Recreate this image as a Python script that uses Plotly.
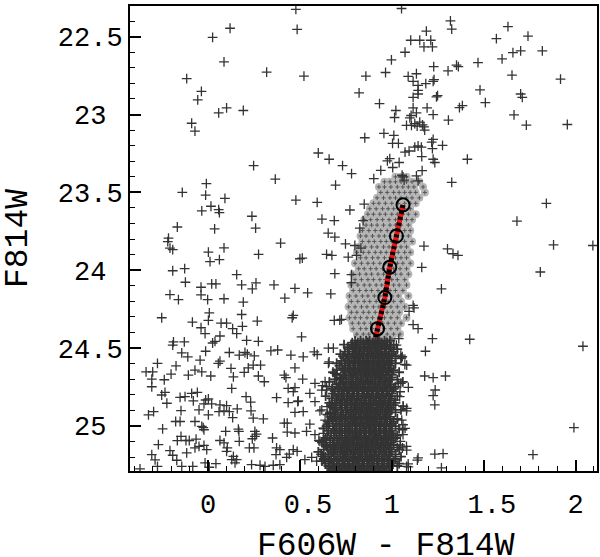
import plotly.graph_objects as go

# field stars (colour, magnitude)
field_stars = [
    (0.478, 22.325), (0.485, 22.453), (0.120, 22.446), (0.025, 22.504), (0.087, 22.662),
    (0.319, 22.727), (-0.116, 22.770), (-0.036, 22.851), (-0.056, 22.906), (0.101, 22.957),
    (0.058, 22.989), (0.192, 22.974), (-0.089, 23.056), (-0.071, 23.107), (0.248, 23.328),
    (0.366, 23.415), (-0.009, 23.443), (-0.140, 23.500), (-0.013, 23.517), (0.092, 23.538),
    (0.478, 23.549), (-0.034, 23.619), (0.016, 23.589), (0.058, 23.611), (0.062, 23.630),
    (0.239, 23.653), (0.259, 23.730), (-0.167, 23.722), (0.036, 23.734), (-0.215, 23.794),
    (-0.219, 23.816), (-0.207, 23.858), (-0.192, 23.867), (0.395, 23.826), (0.002, 23.883),
    (0.087, 23.856), (0.275, 23.898), (0.011, 23.945), (0.062, 23.932), (-0.192, 24.003),
    (-0.127, 23.990), (0.156, 24.028), (0.500, 23.926),
    # upper right
    (1.053, 22.319), (1.319, 22.398), (1.326, 22.451), (1.632, 22.436), (1.188, 22.464),
    (1.569, 22.513), (1.741, 22.496), (1.103, 22.523), (1.152, 22.523), (1.212, 22.523),
    (1.175, 22.566), (1.221, 22.566), (1.072, 22.600), (1.659, 22.602), (1.701, 22.591),
    (1.819, 22.591), (1.600, 22.642), (0.998, 22.649), (1.469, 22.666), (1.228, 22.692),
    (1.352, 22.683), (1.362, 22.692), (1.306, 22.719), (0.522, 22.753), (0.859, 22.753),
    (0.966, 22.730), (1.089, 22.755), (1.134, 22.738), (1.654, 22.747), (1.918, 22.772),
    (1.116, 22.787), (1.143, 22.813), (1.185, 22.802), (1.230, 22.776), (1.225, 22.787),
    (1.143, 22.845), (1.143, 22.868), (0.822, 22.861), (1.116, 22.890), (1.243, 22.887),
    (1.249, 22.879), (1.480, 22.842), (1.701, 22.868), (1.710, 22.890), (1.509, 22.923),
    (0.933, 22.930), (1.368, 22.955), (1.384, 22.943), (1.116, 22.957), (1.192, 22.957),
    (1.022, 22.974), (1.134, 22.989), (1.015, 23.019), (1.098, 23.021), (1.105, 23.006),
    (1.225, 23.000), (1.665, 23.002), (1.308, 23.036), (1.080, 23.070), (1.107, 23.070),
    (1.125, 23.058), (1.138, 23.075), (1.152, 23.049), (1.167, 23.066), (1.175, 23.079),
    (1.179, 23.100), (1.732, 23.068), (1.955, 23.064), (0.853, 23.149), (0.957, 23.121),
    (1.011, 23.134), (1.004, 23.185), (1.036, 23.185), (1.225, 23.160), (1.217, 23.177),
    (1.221, 23.219), (1.276, 23.198), (1.072, 23.241), (1.094, 23.234), (1.125, 23.209),
    (1.143, 23.202), (1.161, 23.209), (1.163, 23.270), (1.225, 23.287), (1.234, 23.308),
    (1.411, 23.287), (0.600, 23.247), (0.659, 23.287), (0.732, 23.328), (0.781, 23.379),
    (0.940, 23.358), (0.976, 23.298), (0.989, 23.283), (1.040, 23.308), (1.005, 23.340),
    (0.902, 23.411), (1.056, 23.390), (1.061, 23.400), (1.165, 23.360), (1.067, 23.421),
    (1.134, 23.394), (1.143, 23.426), (1.326, 23.436), (0.694, 23.453), (0.594, 23.564),
    (0.772, 23.613), (0.850, 23.575), (1.841, 23.570), (1.681, 23.685), (0.620, 23.671),
    (0.687, 23.681), (0.654, 23.762), (0.690, 23.787), (0.844, 23.681), (0.826, 23.730),
    (0.748, 23.830), (0.799, 23.841), (0.832, 23.858), (0.645, 23.898), (0.674, 23.905),
    (0.763, 23.915), (0.808, 23.905), (1.175, 23.845), (1.303, 23.862), (1.333, 23.894),
    (1.360, 23.905), (1.880, 23.837), (2.094, 23.841), (0.513, 23.922), (1.163, 23.981),
    (0.690, 24.022), (0.781, 24.028), (1.808, 24.011), (0.780, 24.080), (0.717, 24.320),
    # lower left
    (-0.123, 24.077), (-0.038, 24.109), (0.020, 24.088), (0.043, 24.088), (0.183, 24.094),
    (0.241, 24.119), (0.261, 24.081), (0.359, 24.094), (0.473, 24.116), (-0.207, 24.156),
    (-0.161, 24.188), (-0.038, 24.158), (-0.002, 24.188), (0.087, 24.183), (0.192, 24.205),
    (0.418, 24.179), (-0.252, 24.305), (-0.085, 24.333), (0.002, 24.322), (0.007, 24.273),
    (0.071, 24.339), (0.101, 24.339), (0.183, 24.284), (0.187, 24.360), (0.268, 24.326),
    (-0.038, 24.369), (-0.016, 24.407), (0.134, 24.375), (0.156, 24.407), (0.065, 24.422),
    (0.038, 24.456), (0.025, 24.467), (0.464, 24.290), (0.458, 24.305), (0.210, 24.450),
    (0.274, 24.456), (-0.188, 24.460), (-0.192, 24.481), (-0.129, 24.460), (-0.013, 24.520),
    (-0.143, 24.531), (-0.110, 24.556), (-0.043, 24.577), (0.116, 24.528), (0.170, 24.545),
    (0.201, 24.528), (0.214, 24.539), (0.252, 24.550), (0.342, 24.518), (0.379, 24.512),
    (0.451, 24.545), (-0.275, 24.598), (-0.337, 24.652), (-0.301, 24.652), (-0.306, 24.699),
    (-0.306, 24.748), (-0.238, 24.703), (-0.201, 24.667), (-0.174, 24.614), (-0.107, 24.673),
    (-0.071, 24.641), (-0.034, 24.652), (0.015, 24.679), (0.056, 24.598), (0.065, 24.584),
    (0.125, 24.630), (0.138, 24.684), (0.197, 24.656), (0.219, 24.627), (0.246, 24.609),
    (0.274, 24.679), (0.286, 24.609), (0.306, 24.716), (0.415, 24.673), (0.424, 24.690),
    (0.473, 24.627), (0.129, 24.758), (-0.252, 24.801), (-0.234, 24.784), (-0.224, 24.854),
    (-0.152, 24.816), (-0.125, 24.812), (-0.089, 24.790), (-0.058, 24.784), (-0.080, 24.839),
    (-0.022, 24.858), (-0.013, 24.833), (0.002, 24.826), (0.020, 24.858), (0.065, 24.865),
    (0.101, 24.869), (0.207, 24.812), (0.232, 24.847), (0.373, 24.818), (0.436, 24.850),
    (0.491, 24.839), (-0.324, 24.929), (-0.296, 24.908), (-0.147, 24.901), (-0.176, 24.971),
    (-0.152, 24.971), (-0.049, 24.897), (0.002, 24.929), (-0.071, 24.971), (-0.034, 25.003),
    (0.060, 24.908), (0.087, 24.903), (0.116, 24.908), (0.134, 24.946), (0.159, 24.890),
    (0.234, 24.903), (0.246, 24.950), (0.301, 24.954), (-0.247, 25.018), (-0.147, 25.067),
    (-0.167, 25.094), (-0.120, 25.093), (-0.102, 25.093), (-0.065, 25.084), (-0.026, 25.010),
    (-0.022, 25.024), (-0.270, 25.120), (-0.207, 25.158), (-0.192, 25.188), (-0.170, 25.220),
    (-0.116, 25.173), (-0.306, 25.184), (-0.288, 25.218), (-0.275, 25.259), (-0.143, 25.259),
    (-0.083, 25.259), (-0.370, 25.275), (-0.071, 25.141), (-0.049, 25.131), (-0.022, 25.124),
    (-0.007, 25.152), (-0.016, 25.237), (0.007, 25.265), (0.043, 25.241), (0.065, 25.093),
    (0.096, 25.035), (0.105, 25.141), (0.101, 25.163), (0.087, 25.109), (0.138, 25.195),
    (0.156, 25.216), (0.129, 25.216), (0.147, 25.237), (0.170, 25.099), (0.165, 25.020),
    (0.168, 25.035), (0.225, 25.141), (0.241, 25.082), (0.255, 25.035), (0.264, 25.052),
    (0.255, 25.067), (0.237, 25.248), (0.250, 25.141), (0.283, 25.252), (0.310, 25.259),
    (0.351, 25.077), (0.355, 25.252), (0.373, 25.141), (0.391, 25.152), (0.391, 25.248),
    (0.370, 25.184), (0.428, 25.201), (0.442, 25.180), (0.464, 25.152), (0.485, 25.163),
    (0.415, 24.982), (0.431, 24.982), (0.431, 25.039), (0.473, 25.045), (0.473, 24.913),
    (0.488, 24.844), (0.473, 24.754), (0.436, 24.758), (0.464, 24.779),
    # lower right
    (1.270, 24.119), (0.542, 24.145), (0.668, 24.151), (0.687, 24.322), (0.726, 24.315),
    (1.116, 24.226), (1.121, 24.241), (1.094, 24.264), (1.116, 24.349), (1.143, 24.375),
    (1.221, 24.439), (1.424, 24.443), (2.040, 24.488), (1.183, 24.520), (1.179, 24.679),
    (1.225, 24.690), (1.292, 24.679), (1.236, 24.769), (1.225, 24.805), (1.234, 24.865),
    (1.991, 25.010), (1.768, 25.184), (1.143, 25.205), (1.234, 25.180), (1.279, 25.178),
    (1.270, 25.269), (1.058, 25.141), (1.080, 25.131), (1.089, 25.243), (1.080, 25.259),
    (1.061, 24.992), (1.058, 25.024), (1.061, 25.056), (1.047, 25.099), (1.080, 24.903),
    (1.061, 24.871), (1.043, 24.812), (1.049, 24.726), (1.071, 24.605), (1.049, 24.545),
    (1.053, 24.563), (1.025, 24.481), (1.038, 24.439), (0.509, 24.428), (0.518, 24.556),
    (0.515, 24.699), (0.518, 24.908), (0.582, 24.726), (0.578, 24.524), (0.594, 24.541),
    (0.659, 24.588), (0.623, 24.741), (0.645, 24.748), (0.678, 24.748), (0.690, 24.699),
    (0.554, 24.790), (0.582, 24.844), (0.609, 24.903), (0.554, 24.988), (0.536, 25.035),
    (0.582, 25.056), (0.603, 25.093), (0.527, 25.216), (0.564, 25.201), (0.591, 25.226),
    (0.609, 25.099), (0.627, 25.014), (0.651, 24.971), (0.663, 24.918), (0.648, 24.876),
    (0.672, 24.822), (0.636, 25.226), (0.654, 25.195), (0.681, 25.141),
    # main-sequence fringe
    (1.057, 24.555), (1.081, 24.609), (1.035, 24.727), (1.090, 24.752), (1.045, 24.780),
    (1.017, 24.833), (1.063, 24.876), (1.081, 24.887), (1.054, 24.962), (1.072, 25.015),
    (1.008, 25.058), (1.045, 25.122), (1.081, 25.155), (1.139, 25.219), (1.090, 25.262),
    (0.619, 24.770), (0.646, 24.770), (0.655, 24.500), (0.682, 24.500), (0.655, 24.598),
    (0.637, 24.716), (0.690, 24.662), (0.718, 24.694), (0.619, 24.897), (0.637, 24.962),
    (0.628, 25.047), (0.646, 25.133), (0.624, 25.197), (0.664, 25.240),
]

# dense main sequence, one row of colours per magnitude level
ms_rows = [
    (24.452, [0.80, 0.83, 0.86, 0.88, 0.91, 0.93, 0.96, 0.99]),
    (24.465, [0.785, 0.815, 0.845, 0.87, 0.895, 0.92, 0.945, 0.975]),
    (24.478, [0.74, 0.78, 0.81, 0.845, 0.87, 0.90, 0.925, 0.95, 0.975, 1.01]),
    (24.493, [0.76, 0.795, 0.83, 0.855, 0.885, 0.91, 0.94, 0.965, 0.995]),
    (24.507, [0.77, 0.80, 0.825, 0.85, 0.88, 0.905, 0.93, 0.96, 0.985, 1.03]),
    (24.522, [0.745, 0.785, 0.81, 0.835, 0.865, 0.89, 0.915, 0.94, 0.97, 1.01]),
    (24.538, [0.72, 0.76, 0.79, 0.82, 0.845, 0.87, 0.895, 0.92, 0.945, 0.97, 1.00]),
    (24.552, [0.735, 0.765, 0.795, 0.82, 0.845, 0.87, 0.90, 0.925, 0.95, 0.98, 1.02]),
    (24.566, [0.75, 0.78, 0.805, 0.83, 0.86, 0.885, 0.91, 0.935, 0.96, 0.99, 1.05]),
    (24.582, [0.725, 0.76, 0.79, 0.815, 0.84, 0.87, 0.895, 0.92, 0.945, 0.97, 1.00]),
    (24.597, [0.70, 0.745, 0.77, 0.80, 0.825, 0.85, 0.875, 0.90, 0.93, 0.955, 0.98, 1.02]),
    (24.612, [0.715, 0.745, 0.775, 0.80, 0.83, 0.855, 0.88, 0.905, 0.93, 0.96, 0.99]),
    (24.628, [0.73, 0.76, 0.79, 0.815, 0.84, 0.865, 0.89, 0.915, 0.94, 0.965, 0.995]),
    (24.641, [0.70, 0.74, 0.77, 0.795, 0.825, 0.85, 0.875, 0.90, 0.925, 0.95, 0.98, 1.01]),
    (24.655, [0.68, 0.745, 0.775, 0.80, 0.83, 0.855, 0.88, 0.905, 0.93, 0.955, 0.985, 1.04]),
    (24.671, [0.70, 0.735, 0.765, 0.79, 0.815, 0.845, 0.87, 0.895, 0.92, 0.945, 0.97, 1.00]),
    (24.688, [0.72, 0.75, 0.78, 0.81, 0.835, 0.86, 0.885, 0.91, 0.94, 0.97, 1.00]),
    (24.702, [0.69, 0.725, 0.75, 0.78, 0.805, 0.83, 0.86, 0.885, 0.91, 0.935, 0.96, 0.99, 1.03]),
    (24.717, [0.66, 0.735, 0.765, 0.79, 0.82, 0.845, 0.87, 0.895, 0.925, 0.95, 0.98, 1.06]),
    (24.732, [0.70, 0.72, 0.75, 0.78, 0.805, 0.83, 0.855, 0.88, 0.91, 0.935, 0.965, 0.995]),
    (24.748, [0.71, 0.745, 0.775, 0.80, 0.83, 0.855, 0.88, 0.905, 0.935, 0.96, 0.99, 1.02]),
    (24.762, [0.675, 0.71, 0.74, 0.765, 0.79, 0.815, 0.845, 0.87, 0.895, 0.92, 0.95, 0.975, 1.01]),
    (24.776, [0.69, 0.725, 0.755, 0.785, 0.81, 0.84, 0.865, 0.89, 0.915, 0.945, 0.975, 1.00]),
    (24.792, [0.68, 0.71, 0.735, 0.76, 0.79, 0.815, 0.84, 0.865, 0.89, 0.92, 0.945, 0.97, 1.00]),
    (24.808, [0.64, 0.71, 0.74, 0.77, 0.795, 0.82, 0.85, 0.875, 0.90, 0.93, 0.955, 0.985, 1.03]),
    (24.822, [0.675, 0.70, 0.725, 0.755, 0.78, 0.81, 0.835, 0.86, 0.885, 0.915, 0.94, 0.965, 0.995]),
    (24.837, [0.70, 0.73, 0.76, 0.785, 0.81, 0.835, 0.86, 0.885, 0.91, 0.94, 0.965, 0.99]),
    (24.852, [0.66, 0.69, 0.72, 0.745, 0.775, 0.80, 0.825, 0.85, 0.875, 0.90, 0.93, 0.955, 0.98, 1.02]),
    (24.866, [0.67, 0.715, 0.745, 0.775, 0.80, 0.825, 0.85, 0.875, 0.90, 0.925, 0.95, 0.98, 1.01]),
    (24.882, [0.68, 0.70, 0.73, 0.76, 0.79, 0.815, 0.84, 0.865, 0.89, 0.915, 0.94, 0.965, 0.99]),
    (24.897, [0.69, 0.725, 0.755, 0.78, 0.81, 0.835, 0.86, 0.885, 0.915, 0.94, 0.97, 1.00, 1.05]),
    (24.912, [0.665, 0.695, 0.725, 0.75, 0.775, 0.80, 0.83, 0.855, 0.88, 0.905, 0.93, 0.96, 0.985, 1.02]),
    (24.927, [0.65, 0.705, 0.735, 0.765, 0.79, 0.82, 0.845, 0.87, 0.895, 0.92, 0.95, 0.975]),
    (24.941, [0.67, 0.69, 0.72, 0.75, 0.78, 0.805, 0.83, 0.86, 0.885, 0.91, 0.935, 0.965, 0.99]),
    (24.955, [0.68, 0.715, 0.745, 0.775, 0.80, 0.83, 0.855, 0.88, 0.905, 0.935, 0.96, 0.99, 1.03]),
    (24.971, [0.655, 0.695, 0.73, 0.76, 0.79, 0.815, 0.84, 0.87, 0.895, 0.92, 0.945, 0.975, 1.01]),
    (24.986, [0.66, 0.70, 0.73, 0.76, 0.785, 0.81, 0.84, 0.865, 0.89, 0.915, 0.94, 0.97, 1.00]),
    (25.001, [0.645, 0.68, 0.715, 0.745, 0.77, 0.80, 0.825, 0.85, 0.88, 0.905, 0.93, 0.96, 0.99, 1.02]),
    (25.017, [0.63, 0.685, 0.715, 0.745, 0.77, 0.80, 0.825, 0.85, 0.875, 0.90, 0.93, 0.955, 0.985, 1.04]),
    (25.031, [0.655, 0.69, 0.72, 0.75, 0.775, 0.805, 0.83, 0.855, 0.885, 0.91, 0.935, 0.97, 1.00]),
    (25.046, [0.67, 0.70, 0.73, 0.76, 0.785, 0.81, 0.835, 0.86, 0.89, 0.915, 0.94, 0.965, 1.00]),
    (25.062, [0.65, 0.685, 0.715, 0.745, 0.77, 0.80, 0.825, 0.85, 0.875, 0.905, 0.93, 0.96, 0.99, 1.03]),
    (25.077, [0.64, 0.685, 0.715, 0.745, 0.77, 0.795, 0.82, 0.85, 0.875, 0.90, 0.925, 0.955, 0.98, 1.02]),
    (25.091, [0.63, 0.665, 0.70, 0.73, 0.755, 0.785, 0.81, 0.835, 0.865, 0.89, 0.915, 0.945, 0.97, 1.00]),
    (25.106, [0.62, 0.665, 0.70, 0.73, 0.755, 0.78, 0.81, 0.835, 0.86, 0.885, 0.91, 0.94, 0.965, 0.995]),
    (25.122, [0.64, 0.68, 0.71, 0.735, 0.765, 0.79, 0.815, 0.84, 0.87, 0.895, 0.92, 0.945, 0.975, 1.01]),
    (25.137, [0.65, 0.69, 0.72, 0.745, 0.77, 0.80, 0.825, 0.85, 0.875, 0.90, 0.93, 0.955, 0.985, 1.03]),
    (25.152, [0.63, 0.665, 0.695, 0.725, 0.755, 0.78, 0.805, 0.83, 0.855, 0.885, 0.91, 0.935, 0.96, 0.99, 1.04]),
    (25.166, [0.60, 0.675, 0.705, 0.735, 0.76, 0.79, 0.815, 0.84, 0.865, 0.89, 0.915, 0.945, 0.97, 1.00]),
    (25.182, [0.615, 0.655, 0.685, 0.72, 0.745, 0.775, 0.80, 0.825, 0.855, 0.88, 0.905, 0.93, 0.96, 0.985, 1.02]),
    (25.197, [0.64, 0.69, 0.72, 0.75, 0.775, 0.80, 0.83, 0.855, 0.88, 0.905, 0.93, 0.96, 0.99, 1.05]),
    (25.212, [0.63, 0.67, 0.705, 0.735, 0.76, 0.79, 0.815, 0.84, 0.87, 0.895, 0.92, 0.95, 0.98, 1.02]),
    (25.226, [0.62, 0.66, 0.70, 0.73, 0.76, 0.785, 0.81, 0.84, 0.865, 0.89, 0.92, 0.945, 0.975, 1.01]),
    (25.242, [0.64, 0.675, 0.705, 0.735, 0.765, 0.79, 0.815, 0.845, 0.87, 0.895, 0.92, 0.95, 0.98, 1.04]),
    (25.257, [0.655, 0.685, 0.715, 0.745, 0.77, 0.80, 0.825, 0.85, 0.88, 0.905, 0.93, 0.96, 0.99, 1.03]),
    (25.270, [0.66, 0.69, 0.72, 0.75, 0.775, 0.805, 0.835, 0.865, 0.895, 0.925, 0.955, 0.985]),
    (25.283, [0.67, 0.70, 0.73, 0.76, 0.79, 0.82, 0.85, 0.88, 0.91, 0.94, 0.97]),
]

# selected sub-giant branch stars (grey)
sgb_rows = [
    (23.400, [1.02, 1.05, 1.08]),
    (23.432, [0.96, 0.99, 1.02, 1.05, 1.08, 1.11, 1.15]),
    (23.465, [0.93, 0.96, 0.995, 1.03, 1.06, 1.09, 1.12, 1.17]),
    (23.500, [0.94, 0.975, 1.01, 1.04, 1.07, 1.10, 1.13, 1.18]),
    (23.535, [0.92, 0.955, 0.99, 1.02, 1.05, 1.08, 1.11, 1.15]),
    (23.570, [0.90, 0.93, 0.965, 1.00, 1.035, 1.07, 1.10, 1.13]),
    (23.605, [0.88, 0.915, 0.95, 0.98, 1.01, 1.04, 1.07, 1.10]),
    (23.640, [0.87, 0.90, 0.935, 0.965, 1.00, 1.03, 1.06, 1.09, 1.13]),
    (23.675, [0.85, 0.885, 0.92, 0.95, 0.985, 1.02, 1.05, 1.08, 1.11]),
    (23.710, [0.86, 0.89, 0.92, 0.955, 0.99, 1.02, 1.05, 1.09]),
    (23.745, [0.84, 0.875, 0.91, 0.94, 0.975, 1.005, 1.04, 1.07, 1.10]),
    (23.780, [0.83, 0.86, 0.895, 0.93, 0.96, 0.99, 1.025, 1.06, 1.09]),
    (23.815, [0.84, 0.875, 0.905, 0.94, 0.97, 1.00, 1.035, 1.07, 1.11]),
    (23.850, [0.82, 0.855, 0.89, 0.92, 0.955, 0.985, 1.02, 1.05, 1.08]),
    (23.885, [0.81, 0.845, 0.875, 0.91, 0.94, 0.97, 1.00, 1.035, 1.07, 1.10]),
    (23.920, [0.83, 0.86, 0.895, 0.925, 0.96, 0.99, 1.02, 1.05, 1.08]),
    (23.955, [0.80, 0.835, 0.87, 0.90, 0.935, 0.965, 1.00, 1.03, 1.06, 1.10]),
    (23.990, [0.82, 0.85, 0.885, 0.915, 0.95, 0.98, 1.01, 1.045, 1.08]),
    (24.025, [0.79, 0.825, 0.86, 0.89, 0.925, 0.955, 0.99, 1.02, 1.05, 1.09]),
    (24.060, [0.80, 0.835, 0.87, 0.90, 0.935, 0.965, 1.00, 1.03, 1.07]),
    (24.095, [0.78, 0.815, 0.85, 0.88, 0.915, 0.945, 0.98, 1.01, 1.04, 1.08]),
    (24.130, [0.79, 0.825, 0.86, 0.89, 0.925, 0.955, 0.99, 1.02, 1.06]),
    (24.165, [0.77, 0.805, 0.84, 0.87, 0.905, 0.935, 0.97, 1.00, 1.035, 1.09]),
    (24.200, [0.78, 0.815, 0.85, 0.88, 0.915, 0.945, 0.98, 1.01, 1.05]),
    (24.235, [0.765, 0.80, 0.835, 0.865, 0.90, 0.93, 0.965, 0.995, 1.03, 1.07]),
    (24.270, [0.78, 0.81, 0.845, 0.875, 0.91, 0.94, 0.975, 1.005, 1.04]),
    (24.305, [0.77, 0.80, 0.83, 0.865, 0.895, 0.93, 0.96, 0.995, 1.03, 1.08]),
    (24.340, [0.785, 0.82, 0.85, 0.885, 0.915, 0.95, 0.98, 1.015, 1.05]),
    (24.375, [0.79, 0.83, 0.86, 0.895, 0.925, 0.96, 0.995, 1.03]),
    (24.410, [0.81, 0.845, 0.875, 0.91, 0.94, 0.975, 1.01, 1.045]),
    (24.440, [0.83, 0.87, 0.90, 0.935, 0.97, 1.00]),
]

# fiducial points and line
fid_x = [0.922, 0.962, 0.989, 1.025, 1.061]
fid_y = [24.375, 24.175, 23.98, 23.78, 23.58]
line_x = [0.912, 0.922, 0.962, 0.989, 1.025, 1.061]
line_y = [24.43, 24.375, 24.175, 23.98, 23.78, 23.58]

xticks = [0, 0.5, 1, 1.5, 2]
xlabels = ["0", "\u00a00.5", "1", "\u00a01.5", "2"]
yticks = [22.5, 23, 23.5, 24, 24.5, 25]
ylabels = ["22.5", "23\u00a0", "23.5", "24\u00a0", "24.5", "25\u00a0"]

star_col = "#333333"
font = "Liberation Mono, Courier New, monospace"

fx = [p[0] for p in field_stars]
fy = [p[1] for p in field_stars]
mx, my = [], []
for yv, xs in ms_rows:
    mx += xs
    my += [yv] * len(xs)
gx, gy = [], []
for yv, xs in sgb_rows:
    gx += xs
    gy += [yv] * len(xs)

fig = go.Figure()
fig.add_trace(go.Scatter(x=gx, y=gy, mode="markers",
                         marker=dict(symbol="circle", size=8, color="#b6b6b6")))
fig.add_trace(go.Scatter(x=gx, y=gy, mode="markers",
                         marker=dict(symbol="cross-thin", size=3, line=dict(width=1, color="#555555"))))
fig.add_trace(go.Scatter(x=fx, y=fy, mode="markers",
                         marker=dict(symbol="cross-thin", size=7, line=dict(width=1.3, color=star_col))))
fig.add_trace(go.Scatter(x=mx, y=my, mode="markers",
                         marker=dict(symbol="cross-thin", size=7, line=dict(width=1.8, color=star_col))))
fig.add_trace(go.Scatter(x=line_x, y=line_y, mode="lines",
                         line=dict(color="#ee1111", width=5)))
fig.add_trace(go.Scatter(x=line_x, y=line_y, mode="lines",
                         line=dict(color="black", width=5, dash="3px,3px")))
fig.add_trace(go.Scatter(x=fid_x, y=fid_y, mode="markers",
                         marker=dict(symbol="circle-open", size=13, color="black", line=dict(width=2))))

axis_common = dict(showline=True, linecolor="black", linewidth=2, mirror=True,
                   ticks="inside", tickcolor="black", tickwidth=1.5, ticklen=11,
                   showgrid=False, zeroline=False, automargin=False,
                   tickfont=dict(family=font, size=27, color="black"),
                   minor=dict(ticks="inside", ticklen=5, tickwidth=1.2, tickcolor="black", dtick=0.1))

fig.update_xaxes(range=[-0.4245, 2.1165], tickvals=xticks, ticktext=xlabels,
                 ticklabelstandoff=8, **axis_common)
fig.update_yaxes(range=[25.289, 22.303], tickvals=yticks, ticktext=ylabels,
                 ticklabelstandoff=0,
                 title=dict(text="F814W", font=dict(family=font, size=33, color="black"), standoff=38),
                 **axis_common)

# x-axis title, placed to sit a bit right of centre as in the original
fig.add_annotation(text="F606W - F814W", xref="x", yref="paper", x=0.968, y=-0.118,
                   xanchor="center", yanchor="top", showarrow=False,
                   font=dict(family=font, size=33, color="black"))

fig.update_layout(width=600, height=557, showlegend=False,
                  margin=dict(l=130, r=3, t=6, b=86),
                  plot_bgcolor="white", paper_bgcolor="white")

fig.write_html("out.html", config={"displayModeBar": False},
               post_script="document.body.style.margin='0';")
